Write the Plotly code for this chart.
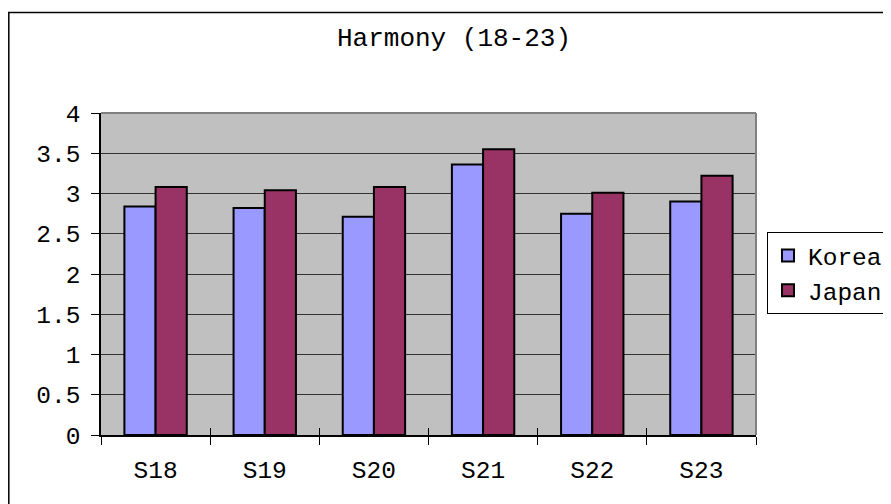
import plotly.graph_objects as go

categories = ["S18", "S19", "S20", "S21", "S22", "S23"]
korea = [2.84, 2.82, 2.71, 3.36, 2.75, 2.90]
japan = [3.08, 3.04, 3.08, 3.55, 3.01, 3.22]
series_names = ["Korea", "Japan"]
y_tickvals = [0, 0.5, 1, 1.5, 2, 2.5, 3, 3.5, 4]
y_ticktext = ["0", "0.5", "1", "1.5", "2", "2.5", "3", "3.5", "4"]
title_text = "Harmony (18-23)"

FONT = "Liberation Mono, Courier New, monospace"
OFF = 8  # page body margin
W, H = 891 - OFF, 504 - OFF
L, R, T, B = 101 - OFF, 756 - OFF, 113 - OFF, 435 - OFF


def px_x(p):
    return (p - OFF - L) / (R - L)


def px_y(p):
    return (B - (p - OFF)) / (B - T)


fig = go.Figure()
fig.add_trace(go.Bar(x=categories, y=korea, name=series_names[0],
                     marker=dict(color="#9999FF", line=dict(color="black", width=2))))
fig.add_trace(go.Bar(x=categories, y=japan, name=series_names[1],
                     marker=dict(color="#993366", line=dict(color="black", width=2))))
# invisible helper trace for crossing tick marks
fig.add_trace(go.Bar(x=categories, y=[None] * len(categories), xaxis="x2",
                     showlegend=False, hoverinfo="skip"))

fig.update_layout(
    width=W, height=H,
    margin=dict(l=L, r=W - R, t=T, b=H - B, pad=0, autoexpand=False),
    paper_bgcolor="white",
    plot_bgcolor="#C0C0C0",
    barmode="group",
    bargap=0.4286,
    bargroupgap=0,
    font=dict(family=FONT, size=24.5, color="black"),
    title=dict(text=title_text, font=dict(family=FONT, size=26, color="black"),
               x=px_x(454), xref="paper", xanchor="center",
               y=1 - (37 - OFF) / H, yref="container", yanchor="middle"),
    showlegend=True,
    legend=dict(x=px_x(767), y=px_y(232), xanchor="left", yanchor="top",
                bgcolor="white", bordercolor="black", borderwidth=1,
                font=dict(family=FONT, size=24.5, color="black"),
                itemwidth=30, tracegroupgap=0),
    xaxis=dict(type="category", range=[-0.5, 5.5], tickson="boundaries",
               ticks="outside", ticklen=8, tickwidth=1, tickcolor="black",
               showline=True, linecolor="black", linewidth=1.5,
               showgrid=False, zeroline=False, ticklabelstandoff=12),
    xaxis2=dict(type="category", range=[-0.5, 5.5], overlaying="x", matches="x",
                anchor="y", side="bottom", tickson="boundaries",
                ticks="inside", ticklen=7, tickwidth=1, tickcolor="black",
                showticklabels=False, showline=False, showgrid=False, zeroline=False),
    yaxis=dict(range=[0, 4], tickvals=y_tickvals, ticktext=y_ticktext,
               ticks="outside", ticklen=8, tickwidth=1, tickcolor="black",
               showline=True, linecolor="black", linewidth=1.5,
               showgrid=True, gridcolor="#333333", gridwidth=1,
               zeroline=False, ticklabelstandoff=6),
    shapes=[
        # plot area border (top and right), gray
        dict(type="line", xref="paper", yref="paper", x0=0, x1=1, y0=1, y1=1,
             line=dict(color="#808080", width=2)),
        dict(type="line", xref="paper", yref="paper", x0=1, x1=1, y0=0, y1=1,
             line=dict(color="#808080", width=2)),
        # outer chart border (extends beyond the picture)
        dict(type="rect", xref="paper", yref="paper",
             x0=px_x(8.8), x1=px_x(940), y0=px_y(560), y1=px_y(12.5),
             line=dict(color="black", width=1.5), fillcolor="rgba(0,0,0,0)"),
    ],
)

fig.write_html("out.html")
